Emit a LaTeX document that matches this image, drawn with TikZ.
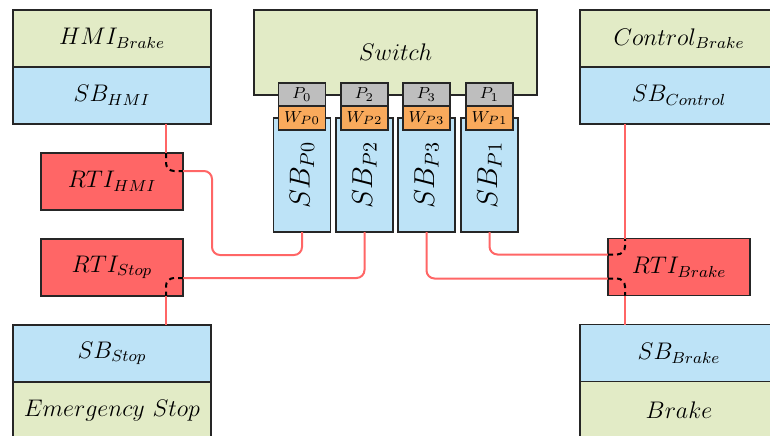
\documentclass[tikz,border=0pt]{standalone}
\usetikzlibrary{positioning}
\definecolor{compgreen}{HTML}{E2EBC6}
\definecolor{sbblue}{HTML}{BDE3F7}
\definecolor{rtired}{HTML}{FF6666}
\definecolor{wraporange}{HTML}{F9AA5C}
\definecolor{portgray}{HTML}{BEBEBE}
\tikzset{
  box/.style={draw=black!85, line width=0.6pt, inner sep=0pt, outer sep=0pt, font=\large},
  comp/.style={box, fill=compgreen, minimum width=99pt, minimum height=28.5pt},
  sbox/.style={box, fill=sbblue, minimum width=99pt, minimum height=28.5pt},
  rti/.style={box, fill=rtired, minimum width=71pt, minimum height=28.5pt},
  sbport/.style={box, fill=sbblue, minimum width=28.5pt, minimum height=57pt, font=\Large},
  port/.style={box, fill=portgray, minimum width=23.5pt, minimum height=11.5pt, font=\fontsize{8.5}{9}\selectfont},
  wrap/.style={port, fill=wraporange, minimum height=12pt},
  link/.style={draw=rtired, line width=1pt, rounded corners=4pt},
  inlink/.style={draw=black, line width=1pt, dash pattern=on 2.5pt off 2pt, rounded corners=4pt}
}
\begin{document}
\begin{tikzpicture}[x=0.5pt, y=-0.5pt]
    \useasboundingbox (0,0) rectangle (770,435);

    % 1. Left side: HMI and emergency stop
    \node[comp] (hmi) at (112,38.5) {$HMI_{Brake}$};
    \node[sbox, below=0pt of hmi] (sbhmi) {$SB_{HMI}$};
    \node[rti] (rtihmi) at (112,181.5) {$RTI_{HMI}$};
    \node[rti] (rtistop) at (112,267.5) {$RTI_{Stop}$};
    \node[sbox] (sbstop) at (112,353.5) {$SB_{Stop}$};
    \node[comp, below=0pt of sbstop] (estop) {$Emergency\ Stop$};

    % 2. Right side: control and brake
    \node[comp] (ctrl) at (679,38.5) {$Control_{Brake}$};
    \node[sbox, below=0pt of ctrl] (sbctrl) {$SB_{Control}$};
    \node[rti] (rtibrake) at (679,267) {$RTI_{Brake}$};
    \node[sbox] (sbbrake) at (679,353) {$SB_{Brake}$};
    \node[comp, below=0pt of sbbrake] (brake) {$Brake$};

    % 3. Switch with its ports
    \node[comp, minimum width=141.5pt, minimum height=42.5pt] (sw) at (395.5,52.5) {$Switch$};
    \foreach \p/\x in {0/302, 2/364.5, 3/426.5, 1/489.5} {
        \node[sbport] (sbp\p) at (\x,175) {\rotatebox{90}{$SB_{P\p}$}};
        \node[port] (p\p) at (\x,94.5) {$P_{\p}$};
        \node[wrap] (w\p) at (\x,118) {$W_{P\p}$};
    }

    % 4. Bends inside the RTI boxes
    \coordinate (hmiturn) at ([shift={(-17,18)}]rtihmi.north east);
    \coordinate (stopturn) at ([shift={(-17,-18)}]rtistop.south east);
    \coordinate (brakelow) at ([shift={(17,-17)}]rtibrake.south west);
    \coordinate (brakehigh) at ([shift={(17,16)}]rtibrake.north west);
    \coordinate (hmibend) at (212,255);

    % 5. Links
    \draw[link] (hmiturn |- sbhmi.south) -- (hmiturn |- rtihmi.north);
    \draw[inlink] (hmiturn |- rtihmi.north) -- (hmiturn) -- (hmiturn -| rtihmi.east);
    \draw[link] (hmiturn -| rtihmi.east) -| (hmibend) -| (sbp0.south);

    \draw[link] (sbp2.south) |- (stopturn -| rtistop.east);
    \draw[inlink] (stopturn -| rtistop.east) -- (stopturn) -- (stopturn |- rtistop.south);
    \draw[link] (stopturn |- rtistop.south) -- (stopturn |- sbstop.north);

    \draw[link] (sbp3.south) |- (brakelow -| rtibrake.west);
    \draw[inlink] (brakelow -| rtibrake.west) -- (brakelow) -- (brakelow |- rtibrake.south);
    \draw[link] (brakelow |- rtibrake.south) -- (brakelow |- sbbrake.north);

    \draw[link] (sbp1.south) |- (brakehigh -| rtibrake.west);
    \draw[inlink] (brakehigh -| rtibrake.west) -- (brakehigh) -- (brakehigh |- rtibrake.north);
    \draw[link] (brakehigh |- rtibrake.north) -- (brakehigh |- sbctrl.south);
\end{tikzpicture}
\end{document}
